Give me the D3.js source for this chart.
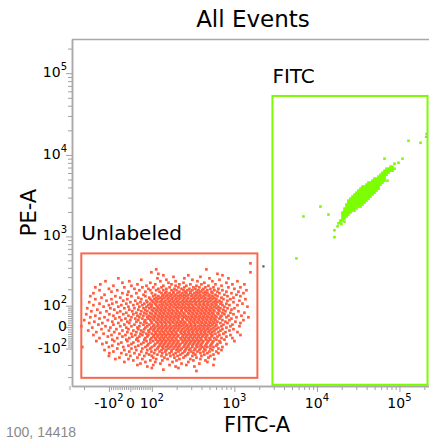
<!DOCTYPE html>
<html>
<head>
<meta charset="utf-8">
<script src="https://cdnjs.cloudflare.com/ajax/libs/d3/7.8.5/d3.min.js"></script>
<style>
  body { margin: 0; background: #fff; }
  svg { display: block; }
  text { font-family: "DejaVu Sans", Verdana, sans-serif; }
</style>
</head>
<body>
<svg id="chart" width="429" height="440"></svg>
<script>
// ---------- data: events (FITC-A, PE-A) ----------
// Unlabeled population, grouped by PE-A value; each row lists the FITC-A values of its events
const unlabeledPE = [458, 382, 349, 333, 318, 303, 289, 276, 263, 250, 237, 226, 214, 203, 193, 183, 173, 163,
  154, 145, 136, 127, 119, 111, 103, 95, 87, 80, 72, 65, 58, 51, 44, 38, 31, 24, 18, 11, 4, -2,
  -9, -15, -22, -29, -35, -42, -49, -56, -63, -70, -77, -85, -92, -100, -108, -116, -125, -133,
  -141, -151, -160, -169, -179, -190, -200, -211, -222, -235, -246];
const unlabeledFITC = [
  [1565],
  [113, 458],
  [98, 1565],
  [120, 624],
  [138, 277, 717],
  [183, 388],
  [-56, 117, 248, 499, 847],
  [51, 150, 310, 660],
  [-110, -5, 127, 194, 357, 542, 1090],
  [-37, 93, 159, 242, 433, 801],
  [-127, 33, 110, 173, 216, 293, 399, 590, 947, 1324],
  [-79, 5, 75, 138, 194, 262, 347, 485, 698],
  [-146, -28, 56, 104, 131, 164, 210, 248, 319, 377, 446, 558, 847, 1184],
  [-100, 19, 84, 120, 150, 188, 229, 285, 337, 422, 513, 641, 1001],
  [-130, -61, 42, 93, 113, 138, 173, 199, 242, 270, 310, 367, 410, 471, 573, 717, 1400],
  [-88, -9, 70, 124, 150, 183, 216, 255, 293, 347, 388, 446, 528, 624, 801, 1120],
  [-154, -37, 28, 100, 131, 146, 164, 183, 205, 235, 262, 293, 328, 367, 422, 471, 542, 660, 922, 1288],
  [-113, -14, 61, 110, 138, 155, 173, 194, 222, 248, 277, 310, 347, 388, 446, 499, 590, 758, 1059],
  [-168, -70, 5, 70, 104, 120, 134, 150, 168, 188, 210, 235, 262, 302, 337, 377, 422, 485, 542, 624, 825, 1184],
  [-123, -47, 37, 88, 113, 127, 142, 159, 178, 199, 222, 248, 277, 319, 357, 399, 446, 513, 573, 698, 975],
  [-146, -88, -14, 51, 93, 107, 120, 134, 155, 173, 194, 216, 242, 270, 302, 337, 377, 433, 485, 542, 606, 737, 896, 1362],
  [-107, -33, 23, 75, 100, 113, 131, 146, 164, 183, 205, 235, 262, 293, 328, 367, 410, 458, 513, 590, 660, 825, 1152],
  [-173, -65, 0, 47, 79, 104, 117, 127, 142, 159, 178, 199, 222, 248, 277, 310, 347, 388, 433, 485, 558, 624, 698, 975],
  [-130, -84, -19, 33, 65, 93, 110, 134, 150, 168, 188, 210, 235, 262, 293, 337, 377, 422, 471, 528, 590, 678, 801, 1252],
  [-154, -100, -42, 14, 56, 84, 100, 113, 124, 138, 155, 173, 194, 216, 242, 277, 310, 347, 388, 433, 485, 542, 606, 717, 872, 1090],
  [-116, -56, -9, 42, 75, 98, 117, 131, 146, 164, 183, 205, 229, 255, 285, 319, 367, 410, 458, 513, 573, 641, 758, 1440],
  [-183, -93, -28, 19, 61, 88, 107, 120, 134, 150, 168, 194, 216, 242, 270, 302, 337, 377, 422, 471, 528, 606, 678, 825, 1001],
  [-138, -75, -5, 37, 70, 100, 113, 127, 142, 159, 178, 199, 229, 255, 285, 319, 357, 399, 446, 499, 558, 641, 737, 922],
  [-163, -107, -47, 9, 51, 79, 104, 117, 131, 146, 164, 183, 205, 229, 262, 293, 328, 367, 410, 458, 513, 573, 660, 780, 1120],
  [-127, -61, -19, 28, 65, 93, 110, 124, 138, 155, 173, 194, 216, 242, 277, 310, 347, 388, 433, 485, 542, 624, 717, 896, 1324],
  [-188, -98, -33, 14, 47, 75, 100, 113, 127, 142, 159, 178, 199, 222, 248, 285, 319, 357, 399, 446, 499, 558, 641, 758, 975],
  [-146, -79, -9, 33, 61, 88, 107, 120, 134, 150, 168, 188, 210, 235, 262, 302, 337, 377, 422, 471, 528, 590, 698, 847, 1218],
  [-168, -113, -51, 5, 42, 79, 98, 110, 124, 138, 155, 173, 194, 216, 248, 277, 310, 347, 388, 433, 485, 542, 606, 678, 801, 1059, 1480],
  [-130, -70, -23, 23, 56, 84, 104, 117, 131, 146, 164, 183, 205, 235, 262, 293, 328, 367, 410, 458, 513, 573, 660, 922],
  [-199, -103, -42, 0, 37, 70, 93, 107, 120, 134, 150, 168, 188, 210, 235, 270, 302, 337, 377, 422, 471, 528, 590, 717, 872, 1288],
  [-150, -84, -14, 28, 65, 98, 113, 127, 142, 159, 178, 199, 222, 248, 285, 319, 357, 399, 446, 499, 558, 624, 780, 1030],
  [-173, -120, -56, -5, 47, 75, 100, 117, 131, 146, 164, 183, 205, 229, 255, 293, 328, 367, 410, 458, 513, 573, 678, 825, 1184],
  [-134, -79, -28, 19, 61, 88, 107, 120, 134, 150, 168, 194, 216, 242, 270, 302, 337, 388, 433, 485, 542, 606, 737, 947],
  [-216, -110, -47, 5, 42, 79, 104, 117, 131, 146, 164, 183, 205, 229, 262, 293, 328, 367, 410, 458, 513, 590, 698, 896, 1152],
  [-159, -93, -19, 33, 70, 98, 110, 124, 138, 155, 173, 194, 216, 248, 277, 310, 347, 388, 433, 485, 558, 641, 801],
  [-123, -65, -9, 37, 65, 93, 107, 120, 134, 150, 168, 188, 210, 235, 270, 302, 337, 377, 422, 471, 528, 606, 717, 975],
  [-178, -100, -37, 14, 51, 84, 104, 117, 131, 146, 164, 183, 205, 229, 255, 285, 319, 357, 399, 446, 499, 573, 678, 872],
  [-142, -75, -14, 28, 61, 88, 110, 124, 138, 155, 173, 194, 222, 248, 277, 310, 347, 388, 433, 485, 542, 641, 780, 1090],
  [-116, -51, 5, 47, 75, 100, 113, 127, 142, 159, 178, 199, 229, 255, 285, 319, 357, 399, 446, 513, 590, 737],
  [-154, -88, -23, 23, 56, 84, 107, 120, 134, 150, 168, 188, 210, 242, 270, 302, 337, 377, 422, 471, 542, 660, 896, 1184],
  [-103, -37, 9, 42, 79, 104, 117, 131, 146, 164, 183, 205, 235, 262, 293, 328, 367, 410, 458, 528, 624, 801],
  [-130, -61, -5, 33, 70, 98, 110, 124, 138, 155, 173, 194, 222, 248, 277, 310, 347, 388, 446, 499, 573, 698, 947],
  [-84, -19, 28, 65, 93, 113, 127, 142, 159, 178, 199, 229, 255, 285, 319, 357, 399, 458, 513, 606, 758],
  [-142, -75, -14, 37, 75, 104, 120, 134, 150, 168, 188, 210, 242, 270, 302, 337, 377, 422, 485, 558, 660, 1001],
  [-107, -42, 14, 61, 93, 117, 131, 146, 164, 183, 205, 235, 262, 293, 328, 367, 410, 471, 542, 678],
  [-120, -56, 5, 51, 84, 110, 127, 142, 159, 178, 199, 222, 255, 285, 319, 357, 399, 458, 528, 624, 801],
  [-84, -9, 37, 79, 107, 124, 138, 155, 173, 194, 216, 248, 277, 310, 347, 388, 446, 513, 606],
  [-210, -100, -33, 23, 70, 100, 120, 134, 150, 168, 188, 210, 242, 270, 310, 357, 410, 471, 558, 717],
  [-61, 5, 56, 93, 117, 138, 159, 183, 205, 229, 262, 293, 337, 388, 433, 513, 641],
  [-113, -28, 28, 79, 110, 131, 150, 173, 199, 222, 255, 285, 328, 377, 446, 542, 698],
  [-79, -5, 51, 98, 124, 146, 173, 210, 248, 302, 357, 422, 499, 606],
  [-98, -42, 19, 75, 107, 134, 164, 194, 235, 277, 319, 388, 471, 641],
  [-19, 42, 88, 117, 150, 183, 222, 270, 337, 433, 558],
  [-100, 0, 65, 100, 131, 168, 205, 255, 310, 399, 513],
  [-51, 33, 104, 142, 188, 242, 347, 485],
  [-70, -9, 56, 113, 155, 216, 293, 388, 573],
  [14, 93, 134, 199, 319, 446],
  [-28, 70, 110, 178, 277, 471],
  [47, 127, 229, 377],
  [33, 104, 164, 262, 558],
  [79, 194, 328],
  [100, 210],
  [138],
  [347]
];

// FITC-labeled population, grouped by PE-A value
const fitcPE = [7170, 6780, 6410, 6060, 5730, 5420, 5120, 4840, 4580, 4330, 4090, 3870, 3660, 3450,
  3270, 3090, 2920, 2760, 2610, 2470, 2330, 2200, 2080, 1970, 1860, 1760, 1660, 1570, 1490];
const fitcFITC = [
  [77900, 82380],
  [69660, 73670, 77900, 82380, 87100],
  [65910, 69660, 73670, 77900, 82380],
  [62320, 65910, 69660, 73670],
  [58940, 62320, 65910, 69660],
  [55740, 58940, 62320, 65910],
  [49850, 52710, 55740, 58940, 62320, 65910],
  [47140, 49850, 52710, 55740, 58940, 62320, 65910],
  [42150, 44580, 47140, 49850, 52710, 55740, 58940, 62320],
  [39860, 42150, 44580, 47140, 49850, 52710, 55740, 58940],
  [35660, 37710, 39860, 42150, 44580, 47140, 49850, 52710, 55740],
  [33720, 35660, 37710, 39860, 42150, 44580, 47140, 49850, 52710, 55740],
  [31890, 33720, 35660, 37710, 39860, 42150, 44580, 47140, 49850, 52710],
  [30160, 31890, 33720, 35660, 37710, 39860, 42150, 44580, 47140, 49850],
  [28520, 30160, 31890, 33720, 35660, 37710, 39860, 42150, 44580, 47140],
  [26970, 28520, 30160, 31890, 33720, 35660, 37710, 39860, 42150, 44580],
  [25510, 26970, 28520, 30160, 31890, 33720, 35660, 37710, 39860, 42150],
  [24120, 25510, 26970, 28520, 30160, 31890, 33720, 35660, 37710, 39860],
  [24120, 25510, 26970, 28520, 30160, 31890, 33720, 35660, 37710],
  [22820, 24120, 25510, 26970, 28520, 30160, 31890, 33720, 35660],
  [22820, 24120, 25510, 26970, 28520, 30160, 31890, 33720],
  [21580, 22820, 24120, 25510, 26970, 28520, 30160],
  [21580, 22820, 24120, 25510, 26970, 28520],
  [20400, 21580, 22820, 24120, 25510],
  [20400, 21580, 22820, 24120],
  [20400, 21580, 22820],
  [20400, 21580],
  [19300, 20400],
  [19300]
];
// scattered FITC-positive events [FITC-A, PE-A]
const fitcScatter = [[5650, 530], [6870, 1760], [11040, 2330], [13800, 1860], [16320, 1190], [16320, 977],
  [18250, 1450], [17800, 1330], [19850, 1420], [21580, 1520], [24120, 2640],
  [65910, 8980], [87100, 7800], [97400, 8020], [108900, 8980], [128750, 14880], [179900, 14070], [71600, 4840]];
// ungated events [FITC-A, PE-A]
const otherEvents = [[2250, 418], [212800, 18120], [210000, 16650]];

// gates: [FITC-A min, FITC-A max], [PE-A min, PE-A max]
const gateNames = ["Unlabeled", "FITC"];
const gateFITC = [[-216, 1901], [2891, 218800]];
const gatePE = [[-307, 613], [-380, 52670]];
const gateColors = ["#f7694f", "#7cfc00"];

// axis ticks
const majorTicks = [-100, 0, 100, 1e3, 1e4, 1e5];
const tickBases = ["-10", "0", "10", "10", "10", "10"];
const tickExps = ["2", "", "2", "3", "4", "5"];
const minorTicks = [-300, -200, -90, -80, -70, -60, -50, -40, -30, -20, -10, 10, 20, 30, 40, 50, 60, 70, 80, 90,
  200, 300, 400, 500, 600, 700, 800, 900, 2e3, 3e3, 4e3, 5e3, 6e3, 7e3, 8e3, 9e3,
  2e4, 3e4, 4e4, 5e4, 6e4, 7e4, 8e4, 9e4, 2e5];

// ---------- scales (biexponential-style display) ----------
function tX(v) { const a = Math.abs(v); return a <= 100 ? 0.26 * v / 100 : Math.sign(v) * (0.26 + Math.log10(a / 100)); }
function tY(v) { return Math.asinh(v / 156) / Math.LN10; }

const L = 72, T = 39, B = 386, R = 429;
function makeScale(tf, lin) {
  const s = v => lin(tf(v));
  s.copy = () => makeScale(tf, lin.copy());
  s.range = () => lin.range();
  s.domain = () => lin.domain();
  return s;
}
const xS = makeScale(tX, d3.scaleLinear().domain([tX(-280), tX(262144)]).range([L, 434]));
const yS = makeScale(tY, d3.scaleLinear().domain([tY(-395), tY(262144)]).range([B, T]));

const svg = d3.select("#chart");
svg.append("defs").append("clipPath").attr("id", "plotClip")
  .append("rect").attr("x", L).attr("y", T).attr("width", R - L).attr("height", B - T);

const axisColor = "#a9a9a9";

// frame top
svg.append("line").attr("x1", L).attr("x2", R).attr("y1", T + 0.5).attr("y2", T + 0.5)
  .attr("stroke", axisColor).attr("stroke-width", 1.5);

const plotG = svg.append("g").attr("clip-path", "url(#plotClip)");

// events
function addDots(points, color, size) {
  plotG.append("g").selectAll("rect").data(points).join("rect")
    .attr("x", d => xS(d[0]) - size / 2)
    .attr("y", d => yS(d[1]) - size / 2)
    .attr("width", size).attr("height", size)
    .attr("fill", color);
}
const unlabeledEvents = unlabeledPE.flatMap((pe, i) => unlabeledFITC[i].map(f => [f, pe]));
const fitcEvents = fitcPE.flatMap((pe, i) => fitcFITC[i].map(f => [f, pe])).concat(fitcScatter);
addDots(unlabeledEvents, "#ff5d40", 2.7);
addDots(fitcEvents, "#7cfc00", 2.6);
addDots(otherEvents.slice(0, 1), "#555", 2.2);
addDots(otherEvents.slice(1), "#b5b5b5", 2.4);

// gates
gateNames.forEach((name, i) => {
  const x0 = xS(gateFITC[i][0]), x1 = xS(gateFITC[i][1]);
  const y0 = yS(gatePE[i][1]), y1 = yS(gatePE[i][0]);
  svg.append("rect").attr("x", x0).attr("y", y0).attr("width", x1 - x0).attr("height", y1 - y0)
    .attr("fill", "none").attr("stroke", gateColors[i]).attr("stroke-width", 2);
  svg.append("text").attr("x", x0).attr("y", y0 - 13).attr("font-size", 20).attr("fill", "#000").text(name);
});

// axes
function styleAxis(g) {
  g.select(".domain").attr("stroke", axisColor).attr("stroke-width", 1.5);
  g.selectAll(".tick line").attr("stroke", "#a0a0a0");
}
const gxMinor = svg.append("g").attr("transform", `translate(0,${B})`)
  .call(d3.axisBottom(xS).tickValues(minorTicks).tickSize(4).tickSizeOuter(0).tickFormat(""));
styleAxis(gxMinor);
const gxMajor = svg.append("g").attr("transform", `translate(0,${B})`)
  .call(d3.axisBottom(xS).tickValues(majorTicks).tickSize(6).tickSizeOuter(0).tickFormat(""));
styleAxis(gxMajor);
const gyMinor = svg.append("g").attr("transform", `translate(${L},0)`)
  .call(d3.axisLeft(yS).tickValues(minorTicks).tickSize(4).tickSizeOuter(0).tickFormat(""));
styleAxis(gyMinor);
const gyMajor = svg.append("g").attr("transform", `translate(${L},0)`)
  .call(d3.axisLeft(yS).tickValues(majorTicks).tickSize(6).tickSizeOuter(0).tickFormat(""));
styleAxis(gyMajor);

// tick labels with superscript exponents
function powerLabel(sel, i) {
  sel.append("tspan").text(tickBases[i]);
  if (tickExps[i]) sel.append("tspan").attr("font-size", 10).attr("dy", -7).text(tickExps[i]);
}
majorTicks.forEach((v, i) => {
  const tx = svg.append("text").attr("x", xS(v)).attr("y", 408).attr("text-anchor", "middle")
    .attr("font-size", 14).attr("fill", "#000");
  powerLabel(tx, i);
  const ty = svg.append("text").attr("x", 67).attr("y", yS(v) + 4).attr("text-anchor", "end")
    .attr("font-size", 14).attr("fill", "#000");
  powerLabel(ty, i);
});

// titles
svg.append("text").attr("x", 253).attr("y", 27).attr("text-anchor", "middle")
  .attr("font-size", 23).attr("fill", "#000").text("All Events");
svg.append("text").attr("x", 257).attr("y", 432).attr("text-anchor", "middle")
  .attr("font-size", 21).attr("fill", "#000").text("FITC-A");
svg.append("text").attr("transform", `translate(36,${(T + B) / 2}) rotate(-90)`).attr("text-anchor", "middle")
  .attr("font-size", 21).attr("fill", "#000").text("PE-A");
svg.append("text").attr("x", 6).attr("y", 437).attr("font-size", 14).attr("fill", "#888")
  .style("font-family", "'Liberation Sans', Arial, sans-serif").text("100, 14418");
</script>
</body>
</html>
